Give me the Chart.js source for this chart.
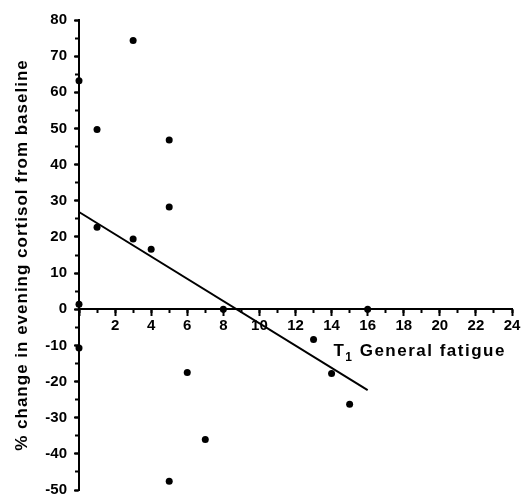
<!DOCTYPE html>
<html>
<head>
<meta charset="utf-8">
<script src="https://cdn.jsdelivr.net/npm/chart.js@4.4.1/dist/chart.umd.min.js"></script>
<style>
  html, body { margin: 0; padding: 0; background: #fff; }
  canvas { display: block; }
</style>
</head>
<body>
<canvas id="chart" width="529" height="495"></canvas>
<script>
// data
const fatigue = [0, 3, 1, 5, 5, 1, 3, 4, 0, 0, 5, 8, 16, 6, 13, 14, 15, 7];
const cortisolChange = [63.2, 74.3, 49.7, 46.8, 28.3, 22.7, 19.4, 16.6, 1.4, -10.7, -47.6, 0, 0, -17.5, -8.4, -17.8, -26.3, -36.0];

// regression line end points
const fitX = [0, 16];
const fitY = [26.9, -22.4];

const xMin = 0, xMax = 24;
const yMin = -50, yMax = 80;

const FONT = "'Liberation Sans', Arial, sans-serif";

const points = fatigue.map((v, i) => ({ x: v, y: cortisolChange[i] }));
const fitLine = fitX.map((v, i) => ({ x: v, y: fitY[i] }));

// titles in the original are spaced out a bit wider than plain Arial
const titleSpacingPlugin = {
  id: "titleSpacing",
  afterLayout(chart) {
    const s = chart.scales.y;
    if (s._spaced) return;
    const orig = s.drawTitle.bind(s);
    s.drawTitle = function (area) {
      const ctx = chart.ctx;
      ctx.save();
      ctx.letterSpacing = "1px";
      orig(area);
      ctx.restore();
    };
    s._spaced = true;
  }
};

// x axis title sits under the tick labels, right side, with a subscript
const xTitlePlugin = {
  id: "xTitle",
  afterDraw(chart) {
    const ctx = chart.ctx;
    const xs = chart.scales.x, ys = chart.scales.y;
    let px = xs.getPixelForValue(14.1);
    const py = ys.getPixelForValue(0) + 47;
    ctx.save();
    ctx.fillStyle = "#000";
    ctx.letterSpacing = "1.5px";
    ctx.textBaseline = "alphabetic";
    ctx.textAlign = "left";
    ctx.font = "bold 17px " + FONT;
    ctx.fillText("T", px, py);
    px += ctx.measureText("T").width;
    ctx.font = "bold 12px " + FONT;
    ctx.fillText("1", px, py + 5);
    px += ctx.measureText("1").width;
    ctx.font = "bold 17px " + FONT;
    ctx.fillText(" General fatigue", px, py);
    ctx.restore();
  }
};

function noPad(scale) {
  scale.paddingTop = 0;
  scale.paddingBottom = 0;
  scale.paddingLeft = 0;
  scale.paddingRight = 0;
}

new Chart(document.getElementById("chart"), {
  type: "scatter",
  data: {
    datasets: [
      {
        data: fitLine,
        showLine: true,
        borderColor: "#000",
        borderWidth: 2,
        pointRadius: 0,
        clip: false
      },
      {
        data: points,
        backgroundColor: "#000",
        borderColor: "#000",
        pointRadius: 3.5,
        borderWidth: 0,
        clip: false
      }
    ]
  },
  options: {
    responsive: false,
    animation: false,
    layout: { padding: { top: 20, bottom: 5, left: 0, right: 17 } },
    plugins: {
      legend: { display: false },
      tooltip: { enabled: false }
    },
    scales: {
      x: {
        type: "linear",
        position: { y: 0 },
        min: xMin,
        max: xMax,
        afterFit(scale) { scale.height = 0; noPad(scale); },
        ticks: {
          stepSize: 2,
          color: "#000",
          padding: 2,
          maxRotation: 0,
          font: { family: FONT, size: 15, weight: "bold" },
          callback: v => (v === 0 ? "" : v)
        },
        grid: {
          drawOnChartArea: false,
          drawTicks: true,
          tickLength: 6,
          tickWidth: 2,
          tickColor: "#000"
        },
        border: { display: true, color: "#000", width: 2 }
      },
      xMinor: {
        type: "linear",
        axis: "x",
        position: { y: 0 },
        min: xMin,
        max: xMax,
        afterFit(scale) { scale.height = 0; noPad(scale); },
        ticks: { stepSize: 1, display: false },
        grid: {
          drawOnChartArea: false,
          drawTicks: true,
          tickLength: 4,
          tickWidth: 2,
          tickColor: "#000"
        },
        border: { display: false }
      },
      y: {
        type: "linear",
        position: "left",
        min: yMin,
        max: yMax,
        afterFit(scale) { scale.width = 79; noPad(scale); },
        ticks: {
          stepSize: 10,
          color: "#000",
          padding: 7,
          font: { family: FONT, size: 15, weight: "bold" }
        },
        grid: {
          drawOnChartArea: false,
          drawTicks: true,
          tickLength: 5,
          tickWidth: 2,
          tickColor: "#000"
        },
        border: { display: true, color: "#000", width: 2 },
        title: {
          display: true,
          text: "% change in evening cortisol from baseline",
          color: "#000",
          padding: { top: 12, bottom: 0 },
          font: { family: FONT, size: 17, weight: "bold" }
        }
      },
      yMinor: {
        type: "linear",
        axis: "y",
        position: { x: 0 },
        min: yMin,
        max: yMax,
        afterFit(scale) { scale.width = 0; noPad(scale); },
        ticks: { stepSize: 5, display: false },
        grid: {
          drawOnChartArea: false,
          drawTicks: true,
          tickLength: 4,
          tickWidth: 2,
          tickColor: "#000"
        },
        border: { display: false }
      }
    }
  },
  plugins: [titleSpacingPlugin, xTitlePlugin]
});
</script>
</body>
</html>
